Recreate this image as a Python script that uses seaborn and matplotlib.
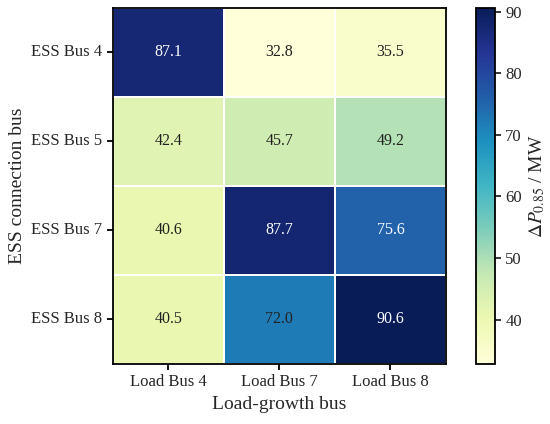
import numpy as np
import pandas as pd
import matplotlib
matplotlib.use("Agg")
import matplotlib.pyplot as plt
import seaborn as sns

# --- Data ---
ess_buses = ["ESS Bus 4", "ESS Bus 5", "ESS Bus 7", "ESS Bus 8"]
load_buses = ["Load Bus 4", "Load Bus 7", "Load Bus 8"]
row_bus4 = [87.1, 32.8, 35.5]
row_bus5 = [42.4, 45.7, 49.2]
row_bus7 = [40.6, 87.7, 75.6]
row_bus8 = [40.5, 72.0, 90.6]

df = pd.DataFrame([row_bus4, row_bus5, row_bus7, row_bus8],
                  index=ess_buses, columns=load_buses)

sns.set_style("ticks")
plt.rcParams['font.family'] = ['Liberation Serif', 'DejaVu Serif']
plt.rcParams['mathtext.fontset'] = 'stix'

fig = plt.figure(figsize=(5.5, 4.24), dpi=100)
ax = fig.add_axes([0.205, 0.1415, 0.606, 0.840])
cax = fig.add_axes([0.865, 0.1415, 0.0345, 0.840])

sns.heatmap(df, ax=ax, cbar_ax=cax, cmap="YlGnBu", annot=True, fmt=".1f",
            linewidths=1.2, linecolor="white",
            annot_kws={"fontsize": 11.5},
            cbar_kws={"label": r"$\Delta P_{0.85}$ / MW"})

# text colour: white only on the darkest cells
for txt in ax.texts:
    v = float(txt.get_text())
    txt.set_color("white" if v > 75 else "#222222")

for sp in ax.spines.values():
    sp.set_visible(True)
    sp.set_color("black")
    sp.set_linewidth(1.3)

ax.set_xlabel("Load-growth bus", fontsize=14)
ax.set_ylabel("ESS connection bus", fontsize=14)
ax.tick_params(axis="both", labelsize=12, length=4, width=1.3, color="black")
plt.setp(ax.get_yticklabels(), rotation=0)

cbar = ax.collections[0].colorbar
cbar.set_ticks([40, 50, 60, 70, 80, 90])
cbar.outline.set_visible(True)
cbar.outline.set_linewidth(1.3)
cbar.outline.set_edgecolor("black")
cax.tick_params(labelsize=12, length=4, width=1.3)
cax.yaxis.label.set_size(14)

fig.savefig("out.png", dpi=100)
